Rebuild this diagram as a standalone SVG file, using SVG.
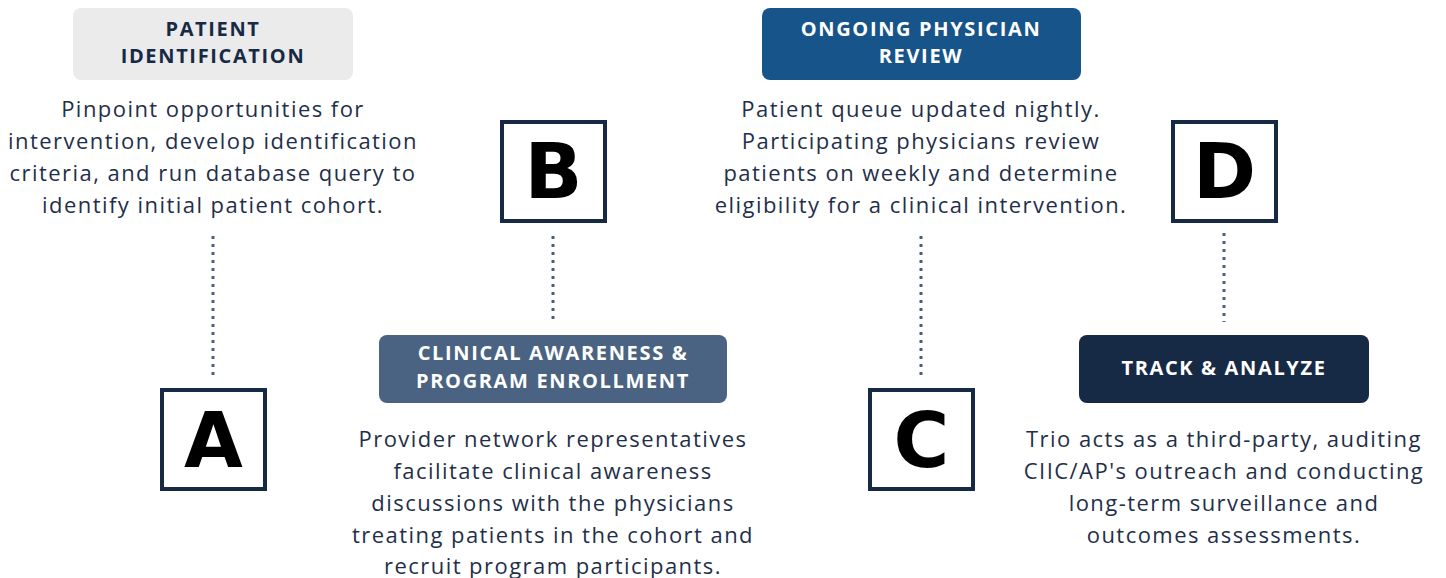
<svg xmlns="http://www.w3.org/2000/svg" width="1446" height="578" viewBox="0 0 1446 578">
<style>
.hd{font-family:"Open Sans","Liberation Sans",sans-serif;font-weight:700;font-size:20px;letter-spacing:1.65px;text-anchor:middle}
.bd{font-family:"Open Sans","Liberation Sans",sans-serif;font-size:22px;letter-spacing:1.45px;fill:#1f2f4a;text-anchor:middle}
.box{fill:#fff;stroke:#172a45;stroke-width:4}
.let{font-family:"DejaVu Sans","Liberation Sans",sans-serif;font-weight:700;font-size:76px;fill:#000;text-anchor:middle}
.dot{stroke:#4a6080;stroke-width:3;stroke-dasharray:3 5;fill:none}
</style>
<rect width="1446" height="578" fill="#fff"/>
<g id="connectors">
<line class="dot" x1="213" y1="236" x2="213" y2="376"/>
<line class="dot" x1="553" y1="236" x2="553" y2="320"/>
<line class="dot" x1="921" y1="236" x2="921" y2="376"/>
<line class="dot" x1="1224" y1="233" x2="1224" y2="322"/>
</g>
<g id="patient-identification">
<rect x="73" y="8" width="280" height="72" rx="8" fill="#ebebeb"/>
<text class="hd" fill="#172a45"><tspan x="213" y="36">PATIENT</tspan><tspan x="213" y="63">IDENTIFICATION</tspan></text>
<text class="bd"><tspan x="213" y="117">Pinpoint opportunities for</tspan><tspan x="213" y="149">intervention, develop identification</tspan><tspan x="213" y="181">criteria, and run database query to</tspan><tspan x="213" y="213">identify initial patient cohort.</tspan></text>
</g>
<g id="box-a">
<rect class="box" x="162" y="390" width="103" height="99"/>
<text class="let" x="213.5" y="467">A</text>
</g>
<g id="box-b">
<rect class="box" x="502" y="122" width="103" height="99"/>
<text class="let" x="553.5" y="198">B</text>
</g>
<g id="clinical-awareness">
<rect x="379" y="335" width="348" height="68" rx="8" fill="#4a6382"/>
<text class="hd" fill="#fff"><tspan x="553" y="360">CLINICAL AWARENESS &amp;</tspan><tspan x="553" y="388">PROGRAM ENROLLMENT</tspan></text>
<text class="bd"><tspan x="553" y="447">Provider network representatives</tspan><tspan x="553" y="479">facilitate clinical awareness</tspan><tspan x="553" y="511">discussions with the physicians</tspan><tspan x="553" y="543">treating patients in the cohort and</tspan><tspan x="553" y="574">recruit program participants.</tspan></text>
</g>
<g id="ongoing-review">
<rect x="762" y="8" width="319" height="72" rx="8" fill="#17548a"/>
<text class="hd" fill="#fff"><tspan x="921" y="36">ONGOING PHYSICIAN</tspan><tspan x="921" y="63">REVIEW</tspan></text>
<text class="bd"><tspan x="921" y="117">Patient queue updated nightly.</tspan><tspan x="921" y="149">Participating physicians review</tspan><tspan x="921" y="181">patients on weekly and determine</tspan><tspan x="921" y="213">eligibility for a clinical intervention.</tspan></text>
</g>
<g id="box-c">
<rect class="box" x="870" y="390" width="103" height="99"/>
<text class="let" x="921.5" y="467">C</text>
</g>
<g id="box-d">
<rect class="box" x="1173" y="122" width="103" height="99"/>
<text class="let" x="1224.5" y="198">D</text>
</g>
<g id="track-analyze">
<rect x="1079" y="335" width="290" height="68" rx="8" fill="#172a45"/>
<text class="hd" fill="#fff" x="1224" y="375">TRACK &amp; ANALYZE</text>
<text class="bd"><tspan x="1224" y="447">Trio acts as a third-party, auditing</tspan><tspan x="1224" y="479">CIIC/AP's outreach and conducting</tspan><tspan x="1224" y="511">long-term surveillance and</tspan><tspan x="1224" y="543">outcomes assessments.</tspan></text>
</g>
</svg>
